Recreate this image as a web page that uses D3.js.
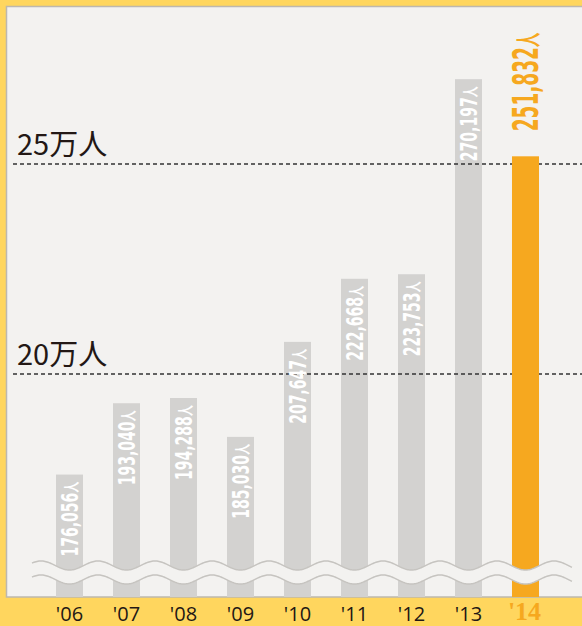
<!DOCTYPE html>
<html><head><meta charset="utf-8">
<script src="https://cdn.jsdelivr.net/npm/d3@7"></script>
<style>html,body{margin:0;padding:0;background:#FFD65E;} svg{display:block}</style>
</head><body>
<svg id="c" width="582" height="626"></svg>
<script>
const years = ["'06","'07","'08","'09","'10","'11","'12","'13","'14"];
const visitors = [176056,193040,194288,185030,207647,222668,223753,270197,251832];
const refValues = [200000, 250000];
const refLabels = ["20万人","25万人"];
const highlightYear = "'14";

const W = 582, H = 626;
const C = {yellow:"#FFD65E", panel:"#F3F2F0", bar:"#D3D2D0", orange:"#F6A81F", text:"#231815", edge:"#BDB8AE", wave:"#C6C4C0"};
const svg = d3.select("#c");
const panelBottom = 597;

svg.append("rect").attr("width",W).attr("height",H).attr("fill",C.yellow);
svg.append("rect").attr("x",6.5).attr("y",6.5).attr("width",W).attr("height",panelBottom-6.5)
  .attr("fill",C.panel).attr("stroke",C.edge).attr("stroke-width",1.5);

const x = d3.scaleBand().domain(years).range([41,554]).paddingInner(0.526).paddingOuter(0.263);
const y = d3.scaleLinear().domain([200000,250000]).range([374,164]);

const data = years.map((yr,i)=>({yr, v:visitors[i], hl: yr===highlightYear}));

const gBars = svg.append("g");
gBars.selectAll("rect").data(data.filter(d=>!d.hl)).join("rect")
  .attr("x",d=>x(d.yr)).attr("width",x.bandwidth())
  .attr("y",d=>y(d.v)).attr("height",d=>panelBottom-y(d.v)).attr("fill",C.bar);

// reference lines
refValues.forEach((rv,i)=>{
  svg.append("line").attr("x1",13).attr("x2",W).attr("y1",y(rv)).attr("y2",y(rv))
    .attr("stroke","#333").attr("stroke-width",1.4).attr("stroke-dasharray","4,3");
  svg.append("text").attr("x",17).attr("y",y(rv)-9).text(refLabels[i])
    .attr("font-family","'Noto Sans CJK JP','Noto Sans'").attr("font-size",29).attr("fill",C.text);
});

svg.append("g").selectAll("rect").data(data.filter(d=>d.hl)).join("rect")
  .attr("x",d=>x(d.yr)).attr("width",x.bandwidth())
  .attr("y",d=>y(d.v)).attr("height",d=>panelBottom-y(d.v)).attr("fill",C.orange);

// wave break
const period = x.step();
const t0 = x(years[0]) + x.bandwidth()/2;
const xs = d3.range(32, 572.5, 1);
const wy = (xx, mid) => mid + 4.5*Math.cos(2*Math.PI*(xx - t0)/period);
const area = d3.area().x(d=>d).y0(d=>wy(d,565.5)).y1(d=>wy(d,579.5)).curve(d3.curveLinear);
svg.append("path").attr("d",area(xs)).attr("fill",C.panel);
const line = mid => d3.line().x(d=>d).y(d=>wy(d,mid));
[565.5,579.5].forEach(m=>svg.append("path").attr("d",line(m)(xs)).attr("fill","none")
  .attr("stroke",C.wave).attr("stroke-width",1.5));

// value labels
const fmt = d3.format(",");
const labFont = "'Liberation Sans Narrow','DejaVu Sans Condensed','Noto Sans CJK JP'";
data.forEach(d=>{
  const cx = x(d.yr) + x.bandwidth()/2;
  const fs = d.hl ? 36 : 23;
  const cap = fs*0.716;
  const t = svg.append("text").attr("font-family",labFont).attr("font-weight","bold")
    .attr("font-size",fs).attr("fill", d.hl ? C.orange : "#fff")
    .attr("text-anchor", d.hl ? "start" : "end");
  t.append("tspan").text(fmt(d.v));
  t.append("tspan").attr("font-size",fs*0.72).text("人");
  const natural = t.node().getComputedTextLength();
  const target = d.hl ? 99 : 75;
  const s = target/natural;
  const ay = d.hl ? y(d.v) - 25 : y(d.v) + 7;
  t.attr("transform",`translate(${cx + cap/2},${ay}) rotate(-90) scale(${s},1)`);
});

// x labels
data.forEach(d=>{
  const cx = x(d.yr) + x.bandwidth()/2;
  svg.append("text").attr("x", d.hl ? cx-1 : cx).attr("y", d.hl ? 619.5 : 621)
    .attr("text-anchor","middle")
    .attr("font-family", d.hl ? "'Liberation Sans Narrow'" : "'Open Sans'")
    .attr("font-weight", d.hl ? "bold" : "normal")
    .attr("font-size", d.hl ? 26 : 20)
    .attr("fill", d.hl ? C.orange : C.text).text(d.yr);
});
</script>
</body></html>
